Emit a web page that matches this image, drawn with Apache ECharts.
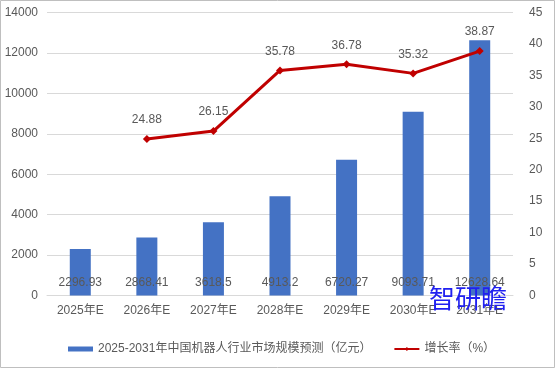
<!DOCTYPE html>
<html><head><meta charset="utf-8">
<script src="https://cdn.jsdelivr.net/npm/echarts@6/dist/echarts.min.js"></script>
<style>html,body{margin:0;padding:0;background:#fff}#c{width:556px;height:370px}</style>
</head><body><div id="c"></div>
<script>
const categories = ['2025年E','2026年E','2027年E','2028年E','2029年E','2030年E','2031年E'];
const marketSize = [2296.93, 2868.41, 3618.5, 4913.2, 6720.27, 9093.71, 12628.64];
const growthRate = [null, 24.88, 26.15, 35.78, 36.78, 35.32, 38.87];
const barName = '2025-2031年中国机器人行业市场规模预测（亿元）';
const lineName = '增长率（%）';
const FONT = '"Liberation Sans","Noto Sans CJK SC",sans-serif';
const chart = echarts.init(document.getElementById('c'), null, {renderer:'canvas'});
chart.setOption({
  backgroundColor:'#fff',
  animation:false,
  textStyle:{fontFamily:FONT},
  grid:{left:47,right:43,top:12.5,bottom:74.5},
  legend:{
    left:68, top:343, padding:0, itemGap:22, itemWidth:25, itemHeight:5,
    textStyle:{color:'#595959',fontSize:12,fontFamily:FONT},
    data:[{name:barName,icon:'rect'},{name:lineName}]
  },
  xAxis:{type:'category',data:categories,
    axisLine:{lineStyle:{color:'#d9d9d9'}},axisTick:{show:false},
    axisLabel:{color:'#595959',fontSize:12,margin:9,fontFamily:FONT}},
  yAxis:[
    {type:'value',min:0,max:14000,interval:2000,
     axisLine:{show:false},axisTick:{show:false},
     splitLine:{lineStyle:{color:'#d9d9d9'}},
     axisLabel:{color:'#595959',fontSize:12,margin:9,fontFamily:FONT,formatter:v=>String(v)}},
    {type:'value',min:0,max:45,interval:5,position:'right',
     axisLine:{show:false},axisTick:{show:false},splitLine:{show:false},
     axisLabel:{color:'#595959',fontSize:12,margin:16,fontFamily:FONT}}
  ],
  series:[
    {name:barName,type:'bar',data:marketSize,barWidth:21,
     itemStyle:{color:'#4472C4'},
     label:{show:true,position:'insideBottom',distance:7,color:'#595959',fontSize:12,fontFamily:FONT}},
    {name:lineName,type:'line',yAxisIndex:1,data:growthRate,
     lineStyle:{color:'#C00000',width:3},itemStyle:{color:'#C00000'},
     symbol:'diamond',symbolSize:8,
     label:{show:true,position:'top',distance:9,color:'#595959',fontSize:12,fontFamily:FONT}}
  ],
  graphic:[
    {type:'text',left:429,top:285,z:100,style:{text:'智研瞻',fill:'#2020F0',fontSize:26,fontFamily:'"Noto Sans CJK SC",sans-serif'}},
    {type:'rect',shape:{x:0.5,y:0.5,width:554,height:367},style:{fill:'none',stroke:'#bfbfbf',lineWidth:1},silent:true}
  ]
});
</script></body></html>
